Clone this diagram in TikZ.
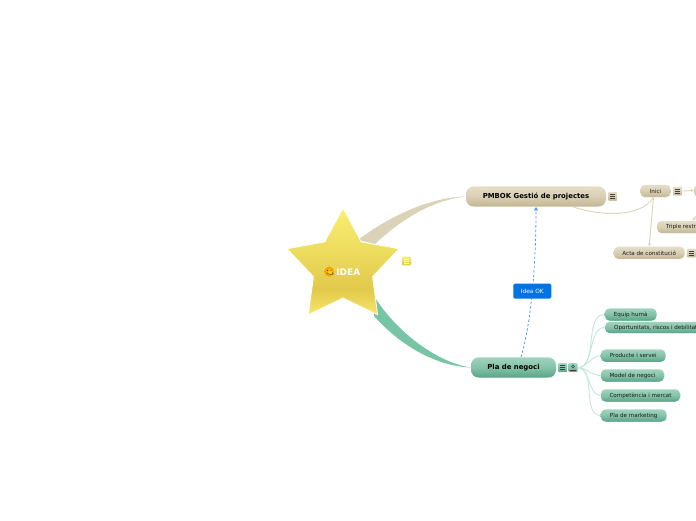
\documentclass[tikz,border=0pt]{standalone}
\usepackage{fontspec}
\setmainfont{DejaVu Sans}
\usetikzlibrary{calc,arrows.meta,shapes.geometric}

\definecolor{tantop}{HTML}{E4DECA}
\definecolor{tanmid}{HTML}{D8CFB3}
\definecolor{tanlow}{HTML}{C5BA99}
\definecolor{tanlip}{HTML}{E8E2CE}
\definecolor{tanband}{HTML}{DBD3B7}
\definecolor{greentop}{HTML}{A0D3BD}
\definecolor{greenmid}{HTML}{84C3A9}
\definecolor{greenlow}{HTML}{5FA88B}
\definecolor{greenlip}{HTML}{ABDDC8}
\definecolor{greenband}{HTML}{76C5A5}
\definecolor{greenline}{HTML}{C4E6D8}
\definecolor{startop}{HTML}{FBEE72}
\definecolor{starmid}{HTML}{EDDC5E}
\definecolor{starlow}{HTML}{E1C94B}
\definecolor{starlip}{HTML}{F7E66E}
\definecolor{linkblue}{HTML}{4A9DF0}
\definecolor{labelblue}{HTML}{0073E6}

% vertical fills: tops and lips are lighter than the lower body
\pgfdeclareverticalshading{tanshade}{100bp}{color(0bp)=(tanlip);color(25bp)=(tanlip);color(29bp)=(tanlow);color(50bp)=(tanmid);color(75bp)=(tantop);color(100bp)=(tantop)}
\pgfdeclareverticalshading{greenshade}{100bp}{color(0bp)=(greenlip);color(25bp)=(greenlip);color(29bp)=(greenlow);color(50bp)=(greenmid);color(75bp)=(greentop);color(100bp)=(greentop)}
\pgfdeclareverticalshading{starshade}{100bp}{color(0bp)=(starlip);color(25bp)=(starlip);color(37bp)=(starlow);color(55bp)=(starmid);color(75bp)=(startop);color(100bp)=(startop)}

\tikzset{
  mainnode/.style={shade, shading=#1, rounded corners=8pt, minimum height=20.5pt,
    inner sep=0pt, text=black, font=\fontsize{6.9}{8}\selectfont\bfseries},
  subnode/.style={shade, shading=#1, rounded corners=5pt, minimum height=12.5pt,
    inner sep=0pt, text=black!90, font=\fontsize{5.6}{6.5}\selectfont},
  noteicon/.style 2 args={shade, shading=#1, rounded corners=1pt, minimum size=9pt, inner sep=0pt,
    path picture={
      \draw[#2, line width=.7pt]
        ($(path picture bounding box.center)+(-2.6,-2)$) -- +(5.2,0)
        ($(path picture bounding box.center)+(-2.6,0)$) -- +(5.2,0)
        ($(path picture bounding box.center)+(-2.6,2)$) -- +(5.2,0);}},
  tanlink/.style={draw=tanband, line width=.9pt},
  greenlink/.style={draw=greenline, line width=.9pt},
}

\begin{document}
\begin{tikzpicture}[x=1pt,y=-1pt]
  \clip (0,0) rectangle (696,520);

  % main topics
  \node[mainnode=tanshade, minimum width=140pt] (pmbok) at (536,196.5) {PMBOK Gestió de projectes};
  \node[mainnode=greenshade, minimum width=85pt] (pla) at (513.5,367.5) {Pla de negoci};

  % tapered bands, their wide ends stay under the star
  \coordinate (bandtopa) at (358,240);
  \coordinate (bandtopb) at (375,244);
  \coordinate (bandlowa) at (374,296);
  \coordinate (bandlowb) at (374,316);
  \fill[tanband] (bandtopa) .. controls (395,212) and (435,197) .. (pmbok.west)
    .. controls (435,200) and (405,216) .. (bandtopb) -- cycle;
  \fill[greenband] (bandlowa) .. controls (395,330) and (435,362) .. (pla.west)
    .. controls (435,366) and (400,345) .. (bandlowb) -- cycle;

  % central star
  \node[star, star points=5, star point ratio=1.9, minimum size=118pt, inner sep=0pt,
    shade, shading=starshade, draw=white, line width=.8pt] (idea) at (343,267) {};
  \node[circle, minimum size=10pt, inner sep=0pt, shade, inner color=yellow!80!orange, outer color=orange!85!yellow,
    path picture={
      \fill[black!70] ($(path picture bounding box.center)+(-1.7,-1.2)$) circle (.7pt);
      \fill[black!70] ($(path picture bounding box.center)+(1.7,-1.2)$) circle (.7pt);
      \draw[black!70, line width=.6pt] ($(path picture bounding box.center)+(-2.8,.8)$)
        .. controls +(1,2.6) and +(4.6,2.6) .. +(5.6,0);}] (smiley) at (329.3,271.7) {};
  \node[text=white, inner sep=0pt, font=\fontsize{9}{10}\selectfont\bfseries] (ideatext) at (348.3,272) {IDEA};

  % tan branch
  \node[subnode=tanshade, minimum width=30.5pt] (inici) at (655.5,191) {Inici};
  \node[subnode=tanshade, minimum width=40pt] (abast) at (714,190.5) {};
  \node[subnode=tanshade, anchor=west, inner xsep=9.3pt] (triple) at (656.7,227) {Triple restricció};
  \node[subnode=tanshade, minimum width=71pt] (acta) at (649.2,252.8) {Acta de constitució};

  % note icons
  \foreach \iconname/\iconx/\icony/\iconfill/\iconline in {
    noteidea/406.5/261/starshade/white,
    notepmbok/612.7/196.3/tanshade/black!75,
    noteinici/677.7/191/tanshade/black!75,
    noteacta/691.3/253/tanshade/black!75,
    notepla/562.7/367.7/greenshade/black!75}
    \node[noteicon={\iconfill}{\iconline}] (\iconname) at (\iconx,\icony) {};

  % person icon
  \node[shade, shading=greenshade, rounded corners=1pt, minimum size=9pt, inner sep=0pt,
    path picture={
      \draw[black!75, line width=.6pt] ($(path picture bounding box.center)+(0,-1.2)$) circle (1.5pt);
      \draw[black!75, line width=.7pt] ($(path picture bounding box.center)+(-3,2.2)$) -- +(6,0);}] (persona) at (573,367.7) {};

  \draw[tanlink] ($(pmbok.south east)+(-33,0)$) .. controls (600,216) and (640,218) .. ($(inici.south)+(-2,0)$);
  \draw[tanlink, -{Stealth[length=3pt,width=3pt]}] ($(inici.south)+(-2,0)$) -- (acta.north);
  \draw[tanlink, -{Stealth[length=3pt,width=3pt]}] (noteinici.east) -- (abast.west);
  \draw[tanlink, -{Stealth[length=3pt,width=3pt]}] ($(abast.south)+(-2,0)$) -- ($(triple.north west)+(36,0)$);

  % green branch
  \node[subnode=greenshade, minimum width=52pt] (equip) at (630.7,314.5) {Equip humà};
  \node[subnode=greenshade, anchor=west, inner xsep=9.3pt, minimum height=11.5pt] (oportunitats) at (604.7,327.5) {Oportunitats, riscos i debilitats};
  \node[subnode=greenshade, minimum width=65pt] (producte) at (633.2,355.7) {Producte i servei};
  \node[subnode=greenshade, minimum width=63.5pt] (model) at (632.5,375.5) {Model de negoci};
  \node[subnode=greenshade, minimum width=79.5pt] (competencia) at (640.5,395.5) {Competència i mercat};
  \node[subnode=greenshade, minimum width=66pt] (marketing) at (633.7,415.5) {Pla de marketing};

  \foreach \childname in {equip,oportunitats,producte,model,competencia,marketing}
    \draw[greenlink] (persona.east) to[out=0,in=180,looseness=.9] (\childname.west);

  % dashed link between the two topics
  \draw[draw=linkblue, line width=.8pt, dashed, dash pattern=on 2.5pt off 2pt, -{Latex[length=3.5pt,width=5pt]}]
    ($(pla.north)+(7.5,0)$) .. controls (532,320) and (536,260) ..
    node[pos=.48, fill=labelblue, text=white, rounded corners=1.5pt, inner sep=0pt, minimum width=38pt, minimum height=15pt,
      font=\fontsize{5.8}{7}\selectfont] (ideaok) {Idea OK} (pmbok.south);
\end{tikzpicture}
\end{document}
